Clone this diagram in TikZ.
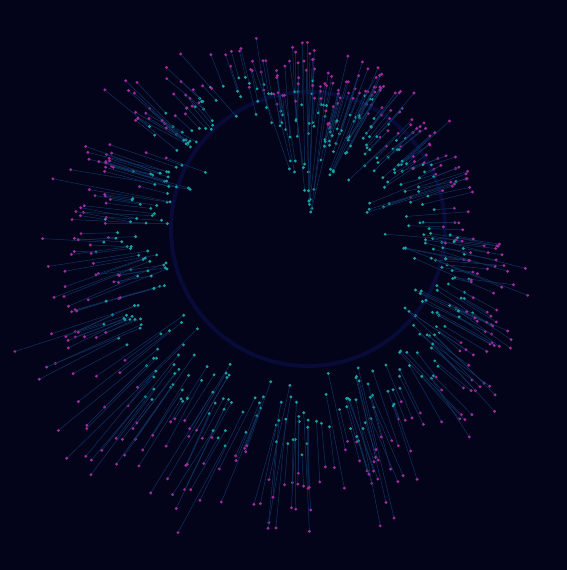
\documentclass[tikz,border=0pt]{standalone}
\definecolor{bg}{HTML}{03031A}
\definecolor{tealdot}{HTML}{1BA0A0}
\definecolor{magdot}{HTML}{A02CA0}
\definecolor{linec}{HTML}{10345F}
\definecolor{ringc}{HTML}{080A38}
\tikzset{
  ray/.style={linec, line width=0.5pt},
  tdot/.style={fill=tealdot},
  mdot/.style={fill=magdot},
}
\begin{document}
\begin{tikzpicture}[x=1pt,y=1pt]
\fill[bg] (0,0) rectangle (567,570);
\useasboundingbox (0,0) rectangle (567,570);
\coordinate (C) at (308,341);
\draw[ringc, line width=4pt] (C) circle[radius=137];
\pgfmathsetseed{4242}
\foreach \cI in {1,...,58}{
  \pgfmathsetmacro\tC{\cI*6.2069 + (rnd-0.5)*4}
  \pgfmathsetmacro\rC{150+45*cos(\tC-235)+(rnd-0.5)*40}
  \pgfmathsetmacro\dC{(rnd-0.5)*18}
  \pgfmathsetmacro\fC{0.6+0.4*rnd}
  \pgfmathtruncatemacro\nC{4+6*rnd}
  \foreach \kI in {1,...,\nC}{
    \pgfmathsetmacro\tA{\tC+(rnd-0.5)*11}
    \pgfmathsetmacro\rA{\rC+(rnd-0.5)*50}
    \pgfmathsetmacro\aA{\tA+\dC+(rnd-0.5)*4}
    \pgfmathsetmacro\mA{max(30,250+80*cos(\tA-240)-\rA)}
    \pgfmathsetmacro\lA{\mA*\fC*(0.3+0.8*rnd)}
    \pgfmathsetmacro\xA{308+\rA*cos(\tA)}
    \pgfmathsetmacro\yA{341+\rA*sin(\tA)}
    \pgfmathsetmacro\xB{\xA+\lA*cos(\aA)}
    \pgfmathsetmacro\yB{\yA+\lA*sin(\aA)}
    \draw[ray] (\xA,\yA) -- (\xB,\yB);
    \fill[tdot] (\xA,\yA) circle[radius=1.6];
    \fill[mdot] (\xB,\yB) circle[radius=1.6];
  }
}
\foreach \tC/\rC/\lC/\nC in {84/30/160/6, 92/50/135/5, 70/70/105/5, 104/60/105/4, 18/70/100/4, 352/90/90/3}{
  \foreach \kI in {1,...,\nC}{
    \pgfmathsetmacro\tA{\tC+(rnd-0.5)*10}
    \pgfmathsetmacro\rA{\rC+(rnd-0.5)*30}
    \pgfmathsetmacro\aA{\tA+(rnd-0.5)*6}
    \pgfmathsetmacro\lA{\lC*(0.6+0.5*rnd)}
    \pgfmathsetmacro\xA{308+\rA*cos(\tA)}
    \pgfmathsetmacro\yA{341+\rA*sin(\tA)}
    \pgfmathsetmacro\xB{\xA+\lA*cos(\aA)}
    \pgfmathsetmacro\yB{\yA+\lA*sin(\aA)}
    \draw[ray] (\xA,\yA) -- (\xB,\yB);
    \fill[tdot] (\xA,\yA) circle[radius=1.6];
    \fill[mdot] (\xB,\yB) circle[radius=1.6];
  }
}
\end{tikzpicture}
\end{document}
